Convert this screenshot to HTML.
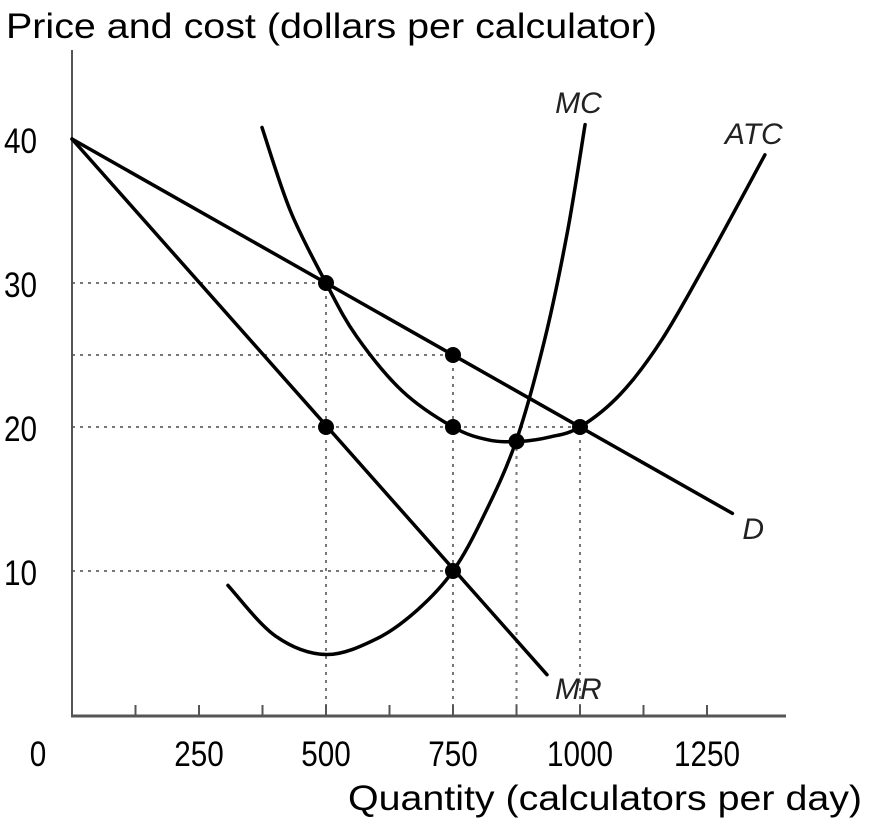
<!DOCTYPE html>
<html><head><meta charset="utf-8"><style>
html,body{margin:0;padding:0;background:#fff;}
svg{display:block;font-family:"Liberation Sans",Arial,sans-serif;}
</style></head><body>
<svg id="chart" width="871" height="828" viewBox="0 0 871 828" xmlns="http://www.w3.org/2000/svg">
<text x="6" y="38" font-size="35" fill="#000" textLength="651" lengthAdjust="spacingAndGlyphs">Price and cost (dollars per calculator)</text>
<text x="348" y="810" font-size="35" fill="#000" textLength="514" lengthAdjust="spacingAndGlyphs">Quantity (calculators per day)</text>
<g id="plot"></g>
</svg>
<script>
const xTicks = [0,125,250,375,500,625,750,875,1000,1125,1250];
const xTickLabels = [0,250,500,750,1000,1250];
const yTickLabels = [10,20,30,40];
const demand = [[0,40],[1300,14]];
const mr = [[0,40],[935,2.8]];
const mc = [[307,9],[400,5.5],[500,4.2],[600,5.3],[680,7.3],[750,10],[810,13.8],[874,19],[930,26],[975,33.5],[1010,41]];
const atc = [[374,40.8],[430,35],[500,30],[560,26.3],[650,22.5],[750,20],[820,19.1],[882,19],[940,19.3],[1000,20],[1080,22.3],[1160,26],[1250,31.5],[1364,38.9]];
const points = [[500,30],[750,25],[500,20],[750,20],[875,19],[1000,20],[750,10]];
const hGuides = [[30,500],[25,750],[20,1000],[10,750]];
const vGuides = [[500,30],[750,25],[875,19],[1000,20]];

const NS="http://www.w3.org/2000/svg";
const X=q=>72+q*0.508, Y=p=>715-p*14.4;
const g=document.getElementById('plot');
function mk(t,a,parent){const e=document.createElementNS(NS,t);for(const k in a)e.setAttribute(k,a[k]);(parent||g).appendChild(e);return e;}
hGuides.forEach(h=>{const e=mk('line',{x1:X(0),y1:Y(h[0]),x2:X(h[1]),y2:Y(h[0]),stroke:'#777','stroke-width':2,'stroke-dasharray':'3,5'});

});
vGuides.forEach(v=>{const e=mk('line',{x1:X(v[0]),y1:Y(0),x2:X(v[0]),y2:Y(v[1]),stroke:'#777','stroke-width':2,'stroke-dasharray':'3,5'});

});
let ax=mk('line',{x1:72,y1:50,x2:72,y2:716,stroke:'#555','stroke-width':2});


ax=mk('line',{x1:71,y1:716,x2:786,y2:716,stroke:'#555','stroke-width':3});


xTicks.forEach(t=>{if(t===0)return;const e=mk('line',{x1:X(t),y1:705,x2:X(t),y2:716,stroke:'#555','stroke-width':2});

});
xTickLabels.forEach(t=>{const s=String(t);const e=mk('text',{x:t===0?38:X(t),y:766,'font-size':35,'text-anchor':'middle',textLength:s.length*16.5,lengthAdjust:'spacingAndGlyphs'});e.textContent=s;

});
yTickLabels.forEach(t=>{const e=mk('text',{x:4,y:Y(t)+14,'font-size':35,textLength:33,lengthAdjust:'spacingAndGlyphs'});e.textContent=t;

});
function smooth(pts){const P=pts.map(p=>[X(p[0]),Y(p[1])]);let d='M'+P[0][0]+','+P[0][1];
for(let i=0;i<P.length-1;i++){const p0=P[i-1]||P[i],p1=P[i],p2=P[i+1],p3=P[i+2]||P[i+1];
d+=' C'+(p1[0]+(p2[0]-p0[0])/6)+','+(p1[1]+(p2[1]-p0[1])/6)+' '+(p2[0]-(p3[0]-p1[0])/6)+','+(p2[1]-(p3[1]-p1[1])/6)+' '+p2[0]+','+p2[1];}return d;}
[[demand,'demand-curve'],[mr,'mr-curve'],[mc,'mc-curve'],[atc,'atc-curve']].forEach(c=>{
const e=mk('path',{d:smooth(c[0]),fill:'none',stroke:'#000','stroke-width':3.5,'stroke-linecap':'round'});

});
points.forEach(p=>{const e=mk('circle',{cx:X(p[0]),cy:Y(p[1]),r:8,fill:'#000'});

});
const labels=[['MC',X(1010)-30,113,'mc-label'],['ATC',X(1364)-40,144,'atc-label'],['D',X(1300)+10,539,'demand-label'],['MR',X(935)+8,699,'mr-label']];
labels.forEach(l=>{const e=mk('text',{x:l[1],y:l[2],'font-size':30,'font-style':'italic',fill:'#222'});e.textContent=l[0];

});
</script>
</body></html>
